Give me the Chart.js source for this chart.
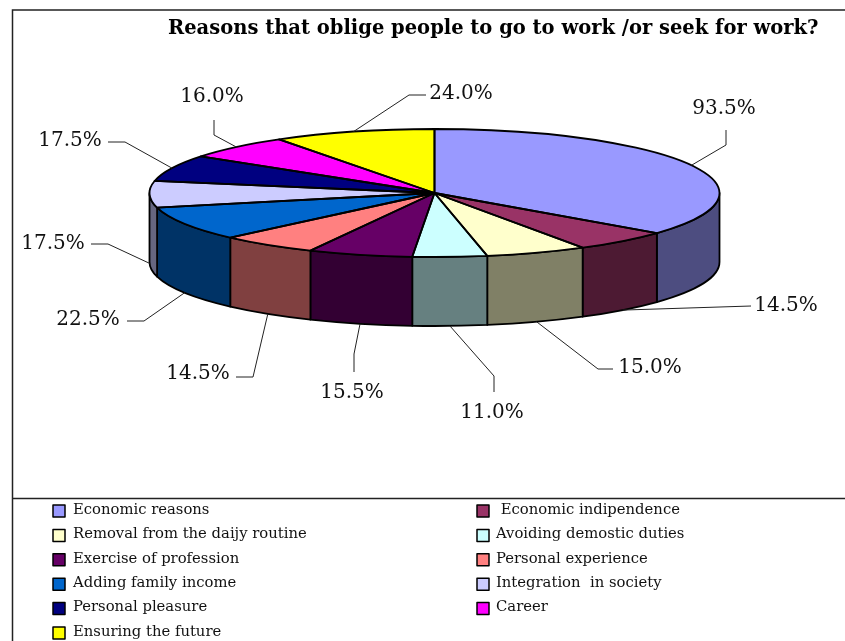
<!DOCTYPE html>
<html>
<head>
<meta charset="utf-8">
<style>
  html, body { margin: 0; padding: 0; background: #fff; overflow: hidden; }
  canvas { display: block; }
</style>
<script src="https://cdn.jsdelivr.net/npm/chart.js@4"></script>
</head>
<body>
<canvas id="chart" width="845" height="641"></canvas>
<script>
const chartTitle = 'Reasons that oblige people to go to work /or seek for work?';
const categories = [
  'Economic reasons', ' Economic indipendence', 'Removal from the daijy routine',
  'Avoiding demostic duties', 'Exercise of profession', 'Personal experience',
  'Adding family income', 'Integration  in society', 'Personal pleasure',
  'Career', 'Ensuring the future'
];
const shares = [93.5, 14.5, 15.0, 11.0, 15.5, 14.5, 22.5, 17.5, 17.5, 16.0, 24.0];
const colours = [
  '#9999FF', '#993366', '#FFFFCC', '#CCFFFF', '#660066', '#FF8080',
  '#0066CC', '#CCCCFF', '#000080', '#FF00FF', '#FFFF00'
];

// Callout layout per slice: elbow of the leader, its end, and the label centre.
const elbows = [[726, 145], null, [598, 369], [494, 376], [354, 354], [253, 377], [144, 321], [108, 244], [125, 142], [214, 135], [409, 95]];
const leaderEnds = [[726, 130], [751, 306], [613, 369], [494, 392], [354, 372], [236, 377], [127, 321], [91, 244], [108, 142], [214, 120], [426, 95]];
const labelCentres = [[724, 109], [786, 306], [650, 368], [492, 413], [352, 393], [198, 374], [88, 320], [53, 244], [70, 141], [212, 97], [461, 94]];

// Projected disc of the tilted pie.
const disc = { x: 434.5, y: 193, rx: 285, ry: 64, depth: 69 };
const frame = { left: 12.5, top: 10, split: 498.5 };
const legendGrid = { swatchX: [53, 477], textX: [73, 496], firstY: 511, stepY: 24.4, size: 12 };

const SERIF = '"DejaVu Serif"';
const LINE = '#000';

function halfShade(hex) {
  const n = parseInt(hex.slice(1), 16);
  const c = [n >> 16, (n >> 8) & 255, n & 255].map(v => Math.round(v / 2));
  return `rgb(${c[0]},${c[1]},${c[2]})`;
}

function discTransform(ctx, arc) {
  ctx.translate(disc.x, disc.y);
  ctx.scale(disc.rx / arc.outerRadius, disc.ry / arc.outerRadius);
  ctx.translate(-arc.x, -arc.y);
}

// Side wall of every slice, limited to the half of the rim that faces the viewer.
function drawWalls(chart) {
  const ctx = chart.ctx;
  chart.getDatasetMeta(0).data.forEach((arc, i) => {
    const a0 = Math.max(arc.startAngle, 0);
    const a1 = Math.min(arc.endAngle, Math.PI);
    if (a1 <= a0) return;
    const drop = disc.depth * arc.outerRadius / disc.ry;
    ctx.save();
    ctx.beginPath();
    discTransform(ctx, arc);
    ctx.arc(arc.x, arc.y, arc.outerRadius, a0, a1);
    ctx.arc(arc.x, arc.y + drop, arc.outerRadius, a1, a0, true);
    ctx.closePath();
    ctx.restore();
    ctx.fillStyle = halfShade(colours[i]);
    ctx.fill();
    ctx.strokeStyle = LINE;
    ctx.lineWidth = 1.8;
    ctx.lineJoin = 'round';
    ctx.stroke();
  });
}

// Slice outlines keep an even width because they are stroked outside the squash.
function drawOutlines(chart) {
  const ctx = chart.ctx;
  chart.getDatasetMeta(0).data.forEach(arc => {
    ctx.save();
    ctx.beginPath();
    discTransform(ctx, arc);
    ctx.moveTo(arc.x, arc.y);
    ctx.arc(arc.x, arc.y, arc.outerRadius, arc.startAngle, arc.endAngle);
    ctx.closePath();
    ctx.restore();
    ctx.strokeStyle = LINE;
    ctx.lineWidth = 1.8;
    ctx.lineJoin = 'round';
    ctx.stroke();
  });
}

function drawCallouts(chart) {
  const ctx = chart.ctx;
  ctx.save();
  chart.getDatasetMeta(0).data.forEach((arc, i) => {
    const mid = (arc.startAngle + arc.endAngle) / 2;
    const sx = disc.x + disc.rx * Math.cos(mid);
    const sy = disc.y + disc.ry * Math.sin(mid) + (Math.sin(mid) > -0.05 ? disc.depth : 0);
    ctx.beginPath();
    ctx.moveTo(sx, sy);
    if (elbows[i]) ctx.lineTo(elbows[i][0], elbows[i][1]);
    ctx.lineTo(leaderEnds[i][0], leaderEnds[i][1]);
    ctx.strokeStyle = '#222';
    ctx.lineWidth = 1;
    ctx.stroke();
    ctx.fillStyle = '#111';
    ctx.font = `20px ${SERIF}`;
    ctx.textAlign = 'center';
    ctx.textBaseline = 'middle';
    ctx.fillText(shares[i].toFixed(1) + '%', labelCentres[i][0], labelCentres[i][1]);
  });
  ctx.restore();
}

function drawLegend(chart) {
  const ctx = chart.ctx;
  const g = legendGrid;
  ctx.save();
  categories.forEach((name, i) => {
    const col = i % 2;
    const y = g.firstY + Math.floor(i / 2) * g.stepY;
    ctx.fillStyle = colours[i];
    ctx.fillRect(g.swatchX[col], y - g.size / 2, g.size, g.size);
    ctx.strokeStyle = LINE;
    ctx.lineWidth = 1.5;
    ctx.strokeRect(g.swatchX[col], y - g.size / 2, g.size, g.size);
    ctx.fillStyle = '#111';
    ctx.font = `14.8px ${SERIF}`;
    ctx.textAlign = 'left';
    ctx.textBaseline = 'middle';
    ctx.fillText(name, g.textX[col], y - 1);
  });
  ctx.restore();
}

const tiltedPie = {
  id: 'tiltedPie',
  beforeDraw(chart) {
    const ctx = chart.ctx;
    ctx.save();
    ctx.strokeStyle = '#222';
    ctx.lineWidth = 1.5;
    ctx.beginPath();
    ctx.moveTo(frame.left, chart.height + 2);
    ctx.lineTo(frame.left, frame.top);
    ctx.lineTo(chart.width + 2, frame.top);
    ctx.moveTo(frame.left, frame.split);
    ctx.lineTo(chart.width + 2, frame.split);
    ctx.stroke();
    ctx.fillStyle = '#000';
    ctx.font = `bold 19.5px ${SERIF}`;
    ctx.textAlign = 'left';
    ctx.textBaseline = 'middle';
    ctx.fillText(chartTitle, 168, 29);
    ctx.restore();
  },
  beforeDatasetsDraw(chart) {
    drawWalls(chart);
    chart.ctx.save();
    discTransform(chart.ctx, chart.getDatasetMeta(0).data[0]);
  },
  afterDatasetsDraw(chart) {
    chart.ctx.restore();
    drawOutlines(chart);
    drawCallouts(chart);
    drawLegend(chart);
  }
};

new Chart(document.getElementById('chart'), {
  type: 'pie',
  data: {
    labels: categories,
    datasets: [{ data: shares, backgroundColor: colours, borderWidth: 0 }]
  },
  options: {
    responsive: false,
    animation: false,
    layout: { padding: 0 },
    plugins: {
      legend: { display: false },
      title: { display: false },
      tooltip: { enabled: false }
    }
  },
  plugins: [tiltedPie]
});
</script>
</body>
</html>
